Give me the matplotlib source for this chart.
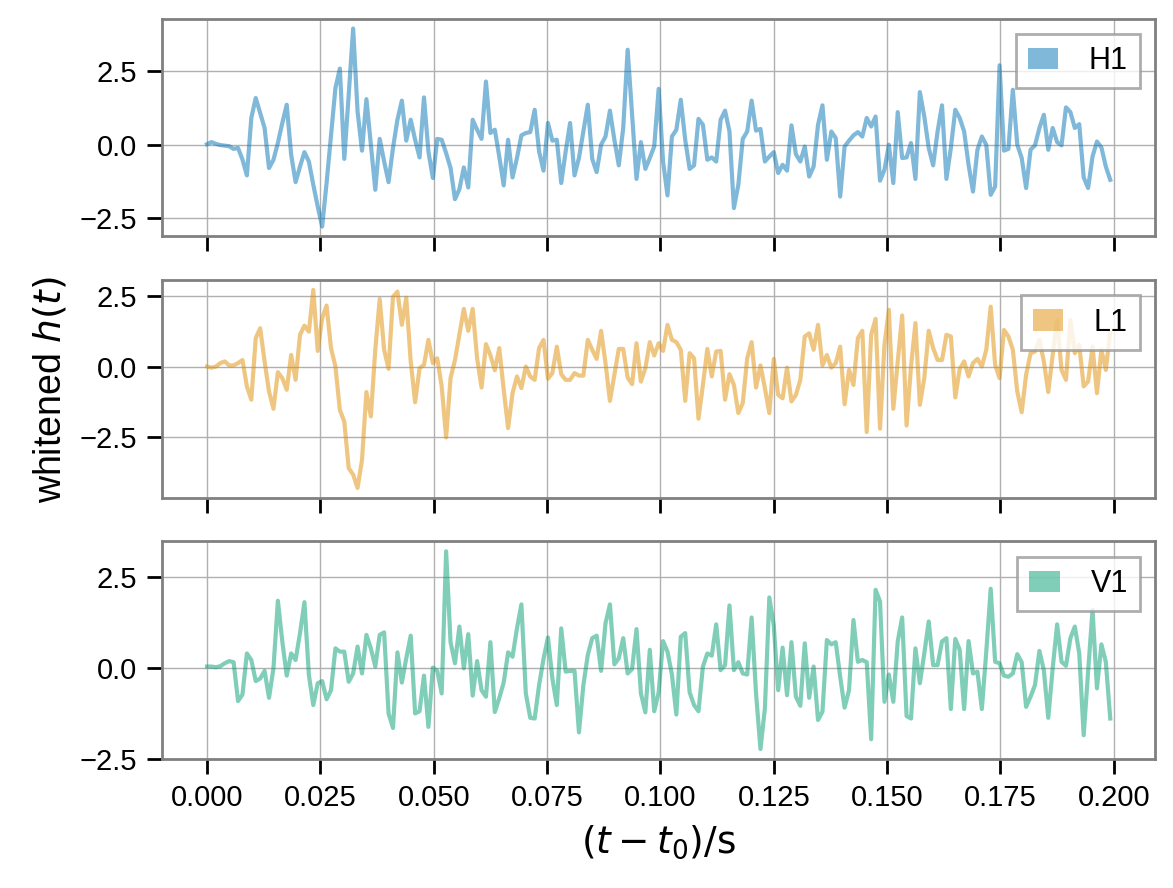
import numpy as np
import matplotlib
matplotlib.use("Agg")
import matplotlib.pyplot as plt
from matplotlib.patches import Patch

fs = 1024
detectors = ["H1", "L1", "V1"]
colors = ["#0173b2", "#de8f05", "#029e73"]

h1 = [0.02, 0.09, 0.03, -0.01, -0.03, -0.05, -0.14, -0.11, -0.5, -1.04,
      0.91, 1.59, 1.08, 0.57, -0.79, -0.51, 0.06, 0.74, 1.36, -0.34,
      -1.27, -0.74, -0.25, -0.57, -1.36, -2.10, -2.78, -1.3, 0.3, 1.93,
      2.59, -0.48, 1.70, 3.95, 1.13, -0.2, 1.55, 0.0, -1.53, 0.2,
      -0.57, -1.27, -0.11, 0.85, 1.50, 0.14, 0.85, 0.17, -0.43, 1.61,
      -0.23, -1.13, 0.2, 0.17, -0.28, -0.79, -1.85, -1.51, -0.77, -1.45,
      0.85, 0.51, 0.2, 2.15, 0.4, 0.51, -0.4, -1.38, 0.17, -1.11,
      -0.45, 0.32, 0.40, 0.43, 1.19, -0.23, -0.88, 0.74, 0.14, 0.17,
      -1.30, -0.23, 0.74, -1.04, -0.45, 0.45, 1.36, -0.48, -0.93, 0.0,
      0.28, 1.16, 0.17, -0.70, 0.57, 3.23, 1.02, -1.16, 0.09, -0.82,
      -0.45, -0.06, 1.90, -0.57, -1.72, 0.28, 0.51, 1.53, 0.17, -0.82,
      -0.70, 0.88, 0.68, -0.51, -0.43, -0.57, 0.85, 1.16, 0.45, -2.15,
      -1.36, 0.20, 0.45, 1.50, 0.48, 0.54, -0.57, -0.40, -0.25, -0.96,
      -0.68, -0.88, 0.66, -0.32, -0.57, -0.06, -1.08, -0.74, 0.68, 1.34,
      -0.51, 0.45, 0.23, -1.76, -0.06, 0.14, 0.32, 0.43, 0.28, 0.91,
      0.62, 0.96, -1.22, -0.85, 0.0, -1.30, 1.11, -0.45, -0.43, 0.06,
      -1.16, 1.79, 0.96, -0.11, -0.70, 0.45, 1.34, -1.16, -0.11, 1.19,
      0.91, 0.45, -0.68, -1.59, -0.17, 0.28, 0.0, -1.70, -1.42, 2.70,
      -0.2, -0.14, 1.87, 0.0, -0.45, -1.47, -0.17, -0.02, 0.57, 1.02,
      -0.17, 0.57, 0.09, -0.02, 1.27, 1.11, 0.57, 0.70, -1.11, -1.47,
      -0.40, 0.11, -0.09, -0.74, -1.19]

l1 = [0.0, -0.04, 0.0, 0.12, 0.18, 0.04, 0.04, 0.12, 0.23, -0.70,
      -1.17, 1.0, 1.35, 0.18, -0.88, -1.49, -0.2, -0.41, -0.82, 0.41,
      -0.47, 1.12, 1.44, 1.23, 2.70, 0.55, 1.70, 2.15, 0.65, 0.0,
      -1.53, -1.94, -3.58, -3.81, -4.28, -3.29, -0.90, -1.76, 0.59, 2.38,
      0.59, -0.08, 2.46, 2.64, 1.47, 2.43, 0.18, -1.26, -0.06, 0.06,
      0.94, 0.12, 0.29, -0.70, -2.50, -0.41, 0.23, 1.12, 2.03, 1.26,
      2.03, 0.29, -0.74, 0.79, 0.4, -0.13, 0.65, -0.8, -2.17, -0.94,
      -0.35, -0.76, 0.0, -0.35, -0.47, 0.65, 0.94, -0.43, -0.23, 0.70,
      -0.27, -0.47, -0.47, -0.23, -0.32, -0.32, 0.94, 0.59, 0.27, 1.26,
      0.12, -1.21, -0.29, 0.62, 0.62, -0.39, -0.62, 0.82, -0.53, -0.06,
      0.86, 0.39, 0.82, 0.55, 1.47, 0.94, 0.86, 0.59, -1.21, 0.47,
      0.29, -1.84, -0.65, 0.62, -0.35, 0.53, 0.55, -1.17, -0.27, -0.65,
      -1.64, -1.29, 0.29, 0.86, -0.74, 0.04, -0.76, -1.64, 0.27, -1.0,
      -1.12, -0.04, -1.23, -1.0, -0.47, 1.06, 1.17, 0.59, 1.47, 0.04,
      0.41, -0.04, 0.12, 0.70, -1.33, -0.12, -0.65, 1.0, 1.26, -2.31,
      1.12, 1.68, -2.19, 0.76, 2.0, -1.49, 0.18, 1.80, -2.08, 0.0,
      1.53, -1.35, -0.41, 1.26, 0.65, 0.23, 0.23, 1.12, 1.06, -1.09,
      -0.08, 0.18, -0.35, 0.12, 0.27, 0.0, 0.59, 2.11, 0.06, -0.41,
      1.29, 1.06, 0.59, -0.88, -1.61, -0.29, 0.47, 0.53, 0.94, 0.18,
      -0.90, 0.41, 1.64, -0.12, -0.47, 1.64, 0.47, 0.76, -0.70, -0.53,
      0.70, -0.94, 0.59, -0.12, 1.23]

v1 = [0.05, 0.05, 0.03, 0.06, 0.14, 0.2, 0.17, -0.90, -0.72, 0.41,
      0.23, -0.35, -0.28, -0.07, -0.81, 0.0, 1.86, 0.74, -0.2, 0.41,
      0.23, 0.97, 1.82, -0.18, -1.01, -0.41, -0.35, -0.85, -0.60, 0.55,
      0.46, 0.46, -0.37, -0.14, 0.60, -0.14, 0.92, 0.55, 0.05, 0.92,
      0.99, -1.24, -1.64, 0.44, -0.39, 0.28, 0.90, -1.24, -1.18, -0.20,
      -1.61, 0.02, -0.07, -0.69, 3.22, 0.72, 0.14, 1.15, 0.0, 0.94,
      -0.75, 0.20, -0.60, -0.78, 0.72, -1.20, -0.82, -0.39, 0.44, 0.32,
      1.10, 1.76, -0.69, -1.36, -1.38, -0.46, 0.26, 0.85, -0.28, -1.01,
      1.10, -0.09, -0.07, -0.07, -1.76, -0.46, 0.37, 0.83, 0.90, -0.07,
      1.24, 1.76, 0.11, 0.28, 0.83, -0.14, -0.02, 1.08, -0.69, -1.21,
      0.51, -1.18, -0.66, 0.75, 0.46, -0.17, -1.27, 0.87, 0.97, -0.66,
      -1.01, -1.18, 0.05, 0.41, 0.35, 1.21, -0.05, 0.09, 1.73, -0.05,
      0.17, -0.14, -0.17, 1.40, -0.69, -2.22, -1.10, 1.95, 1.18, -0.60,
      0.57, -0.74, 0.72, -0.78, -1.03, 0.69, -0.81, 0.05, -1.42, -1.19,
      0.78, 0.66, 0.72, -0.23, -1.08, -0.60, 1.33, 0.18, 0.23, 0.17,
      -1.95, 2.16, 1.84, -0.92, -0.17, -0.92, 0.74, 1.40, -1.31, -1.38,
      0.55, -0.41, 0.41, 1.29, 0.09, 0.09, 0.74, 0.83, -1.12, 0.81,
      0.51, -1.12, 0.75, -0.14, -0.09, -1.12, 0.46, 2.19, 0.18, 0.14,
      -0.20, -0.23, -0.14, 0.39, 0.17, -1.06, -0.78, -0.46, 0.48, -0.05,
      -1.36, 0.0, 1.21, 0.18, 0.07, 0.83, 1.15, 0.41, -1.84, -0.09,
      1.61, -0.55, 0.66, 0.18, -1.38]

series = [h1, l1, v1]
t = np.arange(len(h1)) / fs

plt.rcParams["font.family"] = ["Liberation Sans", "DejaVu Sans"]
plt.rcParams["mathtext.fontset"] = "dejavusans"

fig, axes = plt.subplots(3, 1, sharex=True, figsize=(5.865, 4.44), dpi=200)
fig.subplots_adjust(left=0.138, right=0.985, top=0.979, bottom=0.145, hspace=0.2)

for ax, name, col, vals in zip(axes, detectors, colors, series):
    ax.plot(t, vals, color=col, alpha=0.5, lw=1.5)
    ax.grid(True, color="#b0b0b0", lw=0.5)
    ax.set_axisbelow(True)
    ax.set_yticks([-2.5, 0.0, 2.5])
    ax.tick_params(direction="out", length=5.5, width=1, colors="black",
                   labelsize=10.5)
    for sp in ax.spines.values():
        sp.set_color("#808080")
        sp.set_linewidth(1.0)
    handle = Patch(facecolor=col, alpha=0.5, edgecolor="none")
    leg = ax.legend([handle], [name], loc="upper right", fontsize=11,
                    fancybox=False, edgecolor="#999999", framealpha=0.8,
                    handlelength=1.0, handletextpad=1.0, borderpad=0.4)
    leg.get_frame().set_linewidth(1.0)

axes[-1].set_xticks(np.arange(0, 0.2001, 0.025))
axes[-1].xaxis.set_major_formatter(plt.FormatStrFormatter("%.3f"))
axes[-1].set_xlabel(r"$(t-t_0)/\mathrm{s}$", fontsize=13.5)
axes[1].set_ylabel(r"whitened $h(t)$", fontsize=13.5)

plt.savefig("out.png", dpi=200)
